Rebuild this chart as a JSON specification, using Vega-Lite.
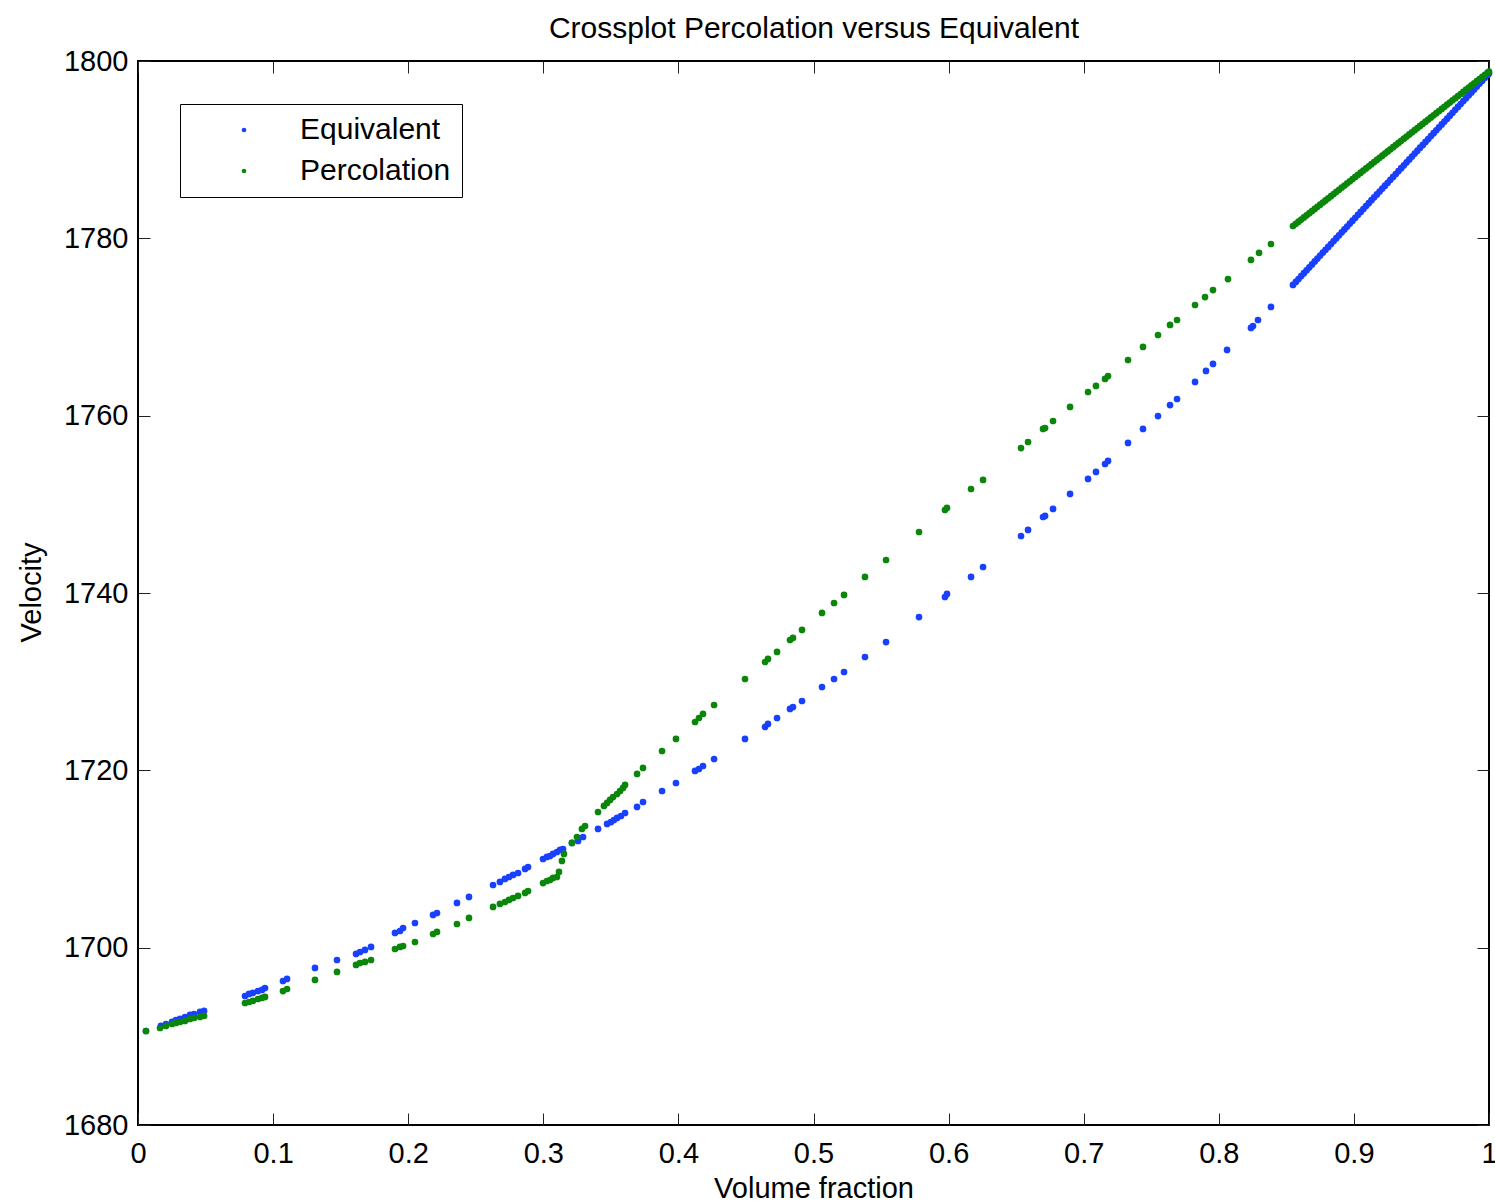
{
  "$schema": "https://vega.github.io/schema/vega-lite/v6.json",
  "width": 1351,
  "height": 1064,
  "autosize": {"type": "none"},
  "padding": {"left": 138, "top": 61, "right": 6, "bottom": 78},
  "background": "white",
  "view": {"stroke": "black", "strokeWidth": 2},
  "data": {
    "values": [
      {"x": 0.0059, "y": 1690.60, "s": "Equivalent"},
      {"x": 0.0170, "y": 1691.17, "s": "Equivalent"},
      {"x": 0.0207, "y": 1691.39, "s": "Equivalent"},
      {"x": 0.0252, "y": 1691.62, "s": "Equivalent"},
      {"x": 0.0281, "y": 1691.84, "s": "Equivalent"},
      {"x": 0.0311, "y": 1691.96, "s": "Equivalent"},
      {"x": 0.0348, "y": 1692.18, "s": "Equivalent"},
      {"x": 0.0385, "y": 1692.41, "s": "Equivalent"},
      {"x": 0.0415, "y": 1692.52, "s": "Equivalent"},
      {"x": 0.0459, "y": 1692.75, "s": "Equivalent"},
      {"x": 0.0489, "y": 1692.86, "s": "Equivalent"},
      {"x": 0.0792, "y": 1694.55, "s": "Equivalent"},
      {"x": 0.0822, "y": 1694.78, "s": "Equivalent"},
      {"x": 0.0851, "y": 1694.89, "s": "Equivalent"},
      {"x": 0.0888, "y": 1695.11, "s": "Equivalent"},
      {"x": 0.0918, "y": 1695.23, "s": "Equivalent"},
      {"x": 0.0940, "y": 1695.45, "s": "Equivalent"},
      {"x": 0.1073, "y": 1696.24, "s": "Equivalent"},
      {"x": 0.1103, "y": 1696.47, "s": "Equivalent"},
      {"x": 0.1310, "y": 1697.71, "s": "Equivalent"},
      {"x": 0.1473, "y": 1698.61, "s": "Equivalent"},
      {"x": 0.1614, "y": 1699.29, "s": "Equivalent"},
      {"x": 0.1643, "y": 1699.51, "s": "Equivalent"},
      {"x": 0.1680, "y": 1699.74, "s": "Equivalent"},
      {"x": 0.1725, "y": 1700.08, "s": "Equivalent"},
      {"x": 0.1902, "y": 1701.66, "s": "Equivalent"},
      {"x": 0.1939, "y": 1701.88, "s": "Equivalent"},
      {"x": 0.1962, "y": 1702.22, "s": "Equivalent"},
      {"x": 0.2050, "y": 1702.78, "s": "Equivalent"},
      {"x": 0.2184, "y": 1703.69, "s": "Equivalent"},
      {"x": 0.2213, "y": 1703.91, "s": "Equivalent"},
      {"x": 0.2361, "y": 1705.04, "s": "Equivalent"},
      {"x": 0.2450, "y": 1705.72, "s": "Equivalent"},
      {"x": 0.2628, "y": 1707.07, "s": "Equivalent"},
      {"x": 0.2679, "y": 1707.41, "s": "Equivalent"},
      {"x": 0.2716, "y": 1707.75, "s": "Equivalent"},
      {"x": 0.2746, "y": 1707.97, "s": "Equivalent"},
      {"x": 0.2776, "y": 1708.20, "s": "Equivalent"},
      {"x": 0.2813, "y": 1708.42, "s": "Equivalent"},
      {"x": 0.2865, "y": 1708.88, "s": "Equivalent"},
      {"x": 0.2887, "y": 1709.10, "s": "Equivalent"},
      {"x": 0.2998, "y": 1710.00, "s": "Equivalent"},
      {"x": 0.3027, "y": 1710.23, "s": "Equivalent"},
      {"x": 0.3050, "y": 1710.34, "s": "Equivalent"},
      {"x": 0.3072, "y": 1710.57, "s": "Equivalent"},
      {"x": 0.3101, "y": 1710.79, "s": "Equivalent"},
      {"x": 0.3124, "y": 1711.02, "s": "Equivalent"},
      {"x": 0.3146, "y": 1711.13, "s": "Equivalent"},
      {"x": 0.3212, "y": 1711.81, "s": "Equivalent"},
      {"x": 0.3257, "y": 1712.03, "s": "Equivalent"},
      {"x": 0.3294, "y": 1712.48, "s": "Equivalent"},
      {"x": 0.3405, "y": 1713.39, "s": "Equivalent"},
      {"x": 0.3472, "y": 1713.95, "s": "Equivalent"},
      {"x": 0.3501, "y": 1714.17, "s": "Equivalent"},
      {"x": 0.3523, "y": 1714.40, "s": "Equivalent"},
      {"x": 0.3546, "y": 1714.63, "s": "Equivalent"},
      {"x": 0.3575, "y": 1714.85, "s": "Equivalent"},
      {"x": 0.3605, "y": 1715.19, "s": "Equivalent"},
      {"x": 0.3694, "y": 1715.87, "s": "Equivalent"},
      {"x": 0.3738, "y": 1716.43, "s": "Equivalent"},
      {"x": 0.3879, "y": 1717.67, "s": "Equivalent"},
      {"x": 0.3982, "y": 1718.57, "s": "Equivalent"},
      {"x": 0.4123, "y": 1719.93, "s": "Equivalent"},
      {"x": 0.4152, "y": 1720.15, "s": "Equivalent"},
      {"x": 0.4182, "y": 1720.49, "s": "Equivalent"},
      {"x": 0.4264, "y": 1721.28, "s": "Equivalent"},
      {"x": 0.4493, "y": 1723.54, "s": "Equivalent"},
      {"x": 0.4641, "y": 1724.89, "s": "Equivalent"},
      {"x": 0.4663, "y": 1725.23, "s": "Equivalent"},
      {"x": 0.4730, "y": 1725.90, "s": "Equivalent"},
      {"x": 0.4826, "y": 1726.92, "s": "Equivalent"},
      {"x": 0.4848, "y": 1727.14, "s": "Equivalent"},
      {"x": 0.4915, "y": 1727.82, "s": "Equivalent"},
      {"x": 0.5063, "y": 1729.40, "s": "Equivalent"},
      {"x": 0.5152, "y": 1730.30, "s": "Equivalent"},
      {"x": 0.5226, "y": 1731.09, "s": "Equivalent"},
      {"x": 0.5381, "y": 1732.78, "s": "Equivalent"},
      {"x": 0.5537, "y": 1734.47, "s": "Equivalent"},
      {"x": 0.5781, "y": 1737.29, "s": "Equivalent"},
      {"x": 0.5973, "y": 1739.55, "s": "Equivalent"},
      {"x": 0.5988, "y": 1739.89, "s": "Equivalent"},
      {"x": 0.6166, "y": 1741.81, "s": "Equivalent"},
      {"x": 0.6255, "y": 1742.93, "s": "Equivalent"},
      {"x": 0.6536, "y": 1746.43, "s": "Equivalent"},
      {"x": 0.6588, "y": 1747.11, "s": "Equivalent"},
      {"x": 0.6699, "y": 1748.57, "s": "Equivalent"},
      {"x": 0.6714, "y": 1748.69, "s": "Equivalent"},
      {"x": 0.6773, "y": 1749.48, "s": "Equivalent"},
      {"x": 0.6899, "y": 1751.17, "s": "Equivalent"},
      {"x": 0.7032, "y": 1752.86, "s": "Equivalent"},
      {"x": 0.7091, "y": 1753.65, "s": "Equivalent"},
      {"x": 0.7158, "y": 1754.55, "s": "Equivalent"},
      {"x": 0.7180, "y": 1754.89, "s": "Equivalent"},
      {"x": 0.7328, "y": 1756.92, "s": "Equivalent"},
      {"x": 0.7439, "y": 1758.50, "s": "Equivalent"},
      {"x": 0.7550, "y": 1759.96, "s": "Equivalent"},
      {"x": 0.7639, "y": 1761.20, "s": "Equivalent"},
      {"x": 0.7691, "y": 1761.88, "s": "Equivalent"},
      {"x": 0.7824, "y": 1763.80, "s": "Equivalent"},
      {"x": 0.7905, "y": 1765.04, "s": "Equivalent"},
      {"x": 0.7957, "y": 1765.83, "s": "Equivalent"},
      {"x": 0.8061, "y": 1767.41, "s": "Equivalent"},
      {"x": 0.8238, "y": 1769.89, "s": "Equivalent"},
      {"x": 0.8253, "y": 1770.11, "s": "Equivalent"},
      {"x": 0.8290, "y": 1770.79, "s": "Equivalent"},
      {"x": 0.8386, "y": 1772.26, "s": "Equivalent"},
      {"x": 0.8549, "y": 1774.74, "s": "Equivalent"},
      {"x": 0.857, "y": 1775.08, "s": "Equivalent"},
      {"x": 0.859, "y": 1775.41, "s": "Equivalent"},
      {"x": 0.861, "y": 1775.74, "s": "Equivalent"},
      {"x": 0.863, "y": 1776.07, "s": "Equivalent"},
      {"x": 0.865, "y": 1776.40, "s": "Equivalent"},
      {"x": 0.867, "y": 1776.73, "s": "Equivalent"},
      {"x": 0.869, "y": 1777.06, "s": "Equivalent"},
      {"x": 0.871, "y": 1777.39, "s": "Equivalent"},
      {"x": 0.873, "y": 1777.72, "s": "Equivalent"},
      {"x": 0.875, "y": 1778.05, "s": "Equivalent"},
      {"x": 0.877, "y": 1778.38, "s": "Equivalent"},
      {"x": 0.879, "y": 1778.70, "s": "Equivalent"},
      {"x": 0.881, "y": 1779.03, "s": "Equivalent"},
      {"x": 0.883, "y": 1779.36, "s": "Equivalent"},
      {"x": 0.885, "y": 1779.69, "s": "Equivalent"},
      {"x": 0.887, "y": 1780.02, "s": "Equivalent"},
      {"x": 0.889, "y": 1780.35, "s": "Equivalent"},
      {"x": 0.891, "y": 1780.68, "s": "Equivalent"},
      {"x": 0.893, "y": 1781.01, "s": "Equivalent"},
      {"x": 0.895, "y": 1781.33, "s": "Equivalent"},
      {"x": 0.897, "y": 1781.66, "s": "Equivalent"},
      {"x": 0.899, "y": 1781.99, "s": "Equivalent"},
      {"x": 0.901, "y": 1782.32, "s": "Equivalent"},
      {"x": 0.903, "y": 1782.65, "s": "Equivalent"},
      {"x": 0.905, "y": 1782.98, "s": "Equivalent"},
      {"x": 0.907, "y": 1783.31, "s": "Equivalent"},
      {"x": 0.909, "y": 1783.64, "s": "Equivalent"},
      {"x": 0.911, "y": 1783.97, "s": "Equivalent"},
      {"x": 0.913, "y": 1784.30, "s": "Equivalent"},
      {"x": 0.915, "y": 1784.62, "s": "Equivalent"},
      {"x": 0.917, "y": 1784.95, "s": "Equivalent"},
      {"x": 0.919, "y": 1785.28, "s": "Equivalent"},
      {"x": 0.921, "y": 1785.61, "s": "Equivalent"},
      {"x": 0.923, "y": 1785.94, "s": "Equivalent"},
      {"x": 0.925, "y": 1786.27, "s": "Equivalent"},
      {"x": 0.927, "y": 1786.60, "s": "Equivalent"},
      {"x": 0.929, "y": 1786.93, "s": "Equivalent"},
      {"x": 0.931, "y": 1787.25, "s": "Equivalent"},
      {"x": 0.933, "y": 1787.58, "s": "Equivalent"},
      {"x": 0.935, "y": 1787.91, "s": "Equivalent"},
      {"x": 0.937, "y": 1788.24, "s": "Equivalent"},
      {"x": 0.939, "y": 1788.57, "s": "Equivalent"},
      {"x": 0.941, "y": 1788.90, "s": "Equivalent"},
      {"x": 0.943, "y": 1789.23, "s": "Equivalent"},
      {"x": 0.945, "y": 1789.56, "s": "Equivalent"},
      {"x": 0.947, "y": 1789.89, "s": "Equivalent"},
      {"x": 0.949, "y": 1790.22, "s": "Equivalent"},
      {"x": 0.951, "y": 1790.54, "s": "Equivalent"},
      {"x": 0.953, "y": 1790.87, "s": "Equivalent"},
      {"x": 0.955, "y": 1791.20, "s": "Equivalent"},
      {"x": 0.957, "y": 1791.53, "s": "Equivalent"},
      {"x": 0.959, "y": 1791.86, "s": "Equivalent"},
      {"x": 0.961, "y": 1792.19, "s": "Equivalent"},
      {"x": 0.963, "y": 1792.52, "s": "Equivalent"},
      {"x": 0.965, "y": 1792.85, "s": "Equivalent"},
      {"x": 0.967, "y": 1793.17, "s": "Equivalent"},
      {"x": 0.969, "y": 1793.50, "s": "Equivalent"},
      {"x": 0.971, "y": 1793.83, "s": "Equivalent"},
      {"x": 0.973, "y": 1794.16, "s": "Equivalent"},
      {"x": 0.975, "y": 1794.49, "s": "Equivalent"},
      {"x": 0.977, "y": 1794.82, "s": "Equivalent"},
      {"x": 0.979, "y": 1795.15, "s": "Equivalent"},
      {"x": 0.981, "y": 1795.48, "s": "Equivalent"},
      {"x": 0.983, "y": 1795.81, "s": "Equivalent"},
      {"x": 0.985, "y": 1796.14, "s": "Equivalent"},
      {"x": 0.987, "y": 1796.46, "s": "Equivalent"},
      {"x": 0.989, "y": 1796.79, "s": "Equivalent"},
      {"x": 0.991, "y": 1797.12, "s": "Equivalent"},
      {"x": 0.993, "y": 1797.45, "s": "Equivalent"},
      {"x": 0.995, "y": 1797.78, "s": "Equivalent"},
      {"x": 0.997, "y": 1798.11, "s": "Equivalent"},
      {"x": 0.999, "y": 1798.44, "s": "Equivalent"},
      {"x": 1.0, "y": 1798.60, "s": "Equivalent"},
      {"x": 0.0059, "y": 1690.60, "s": "Percolation"},
      {"x": 0.0163, "y": 1690.94, "s": "Percolation"},
      {"x": 0.0207, "y": 1691.17, "s": "Percolation"},
      {"x": 0.0252, "y": 1691.39, "s": "Percolation"},
      {"x": 0.0281, "y": 1691.51, "s": "Percolation"},
      {"x": 0.0311, "y": 1691.62, "s": "Percolation"},
      {"x": 0.0348, "y": 1691.73, "s": "Percolation"},
      {"x": 0.0385, "y": 1691.96, "s": "Percolation"},
      {"x": 0.0415, "y": 1692.07, "s": "Percolation"},
      {"x": 0.0459, "y": 1692.18, "s": "Percolation"},
      {"x": 0.0489, "y": 1692.30, "s": "Percolation"},
      {"x": 0.0792, "y": 1693.76, "s": "Percolation"},
      {"x": 0.0822, "y": 1693.87, "s": "Percolation"},
      {"x": 0.0851, "y": 1693.99, "s": "Percolation"},
      {"x": 0.0888, "y": 1694.21, "s": "Percolation"},
      {"x": 0.0918, "y": 1694.33, "s": "Percolation"},
      {"x": 0.0940, "y": 1694.44, "s": "Percolation"},
      {"x": 0.1073, "y": 1695.11, "s": "Percolation"},
      {"x": 0.1103, "y": 1695.34, "s": "Percolation"},
      {"x": 0.1310, "y": 1696.36, "s": "Percolation"},
      {"x": 0.1473, "y": 1697.26, "s": "Percolation"},
      {"x": 0.1614, "y": 1698.05, "s": "Percolation"},
      {"x": 0.1643, "y": 1698.27, "s": "Percolation"},
      {"x": 0.1680, "y": 1698.39, "s": "Percolation"},
      {"x": 0.1725, "y": 1698.61, "s": "Percolation"},
      {"x": 0.1902, "y": 1699.85, "s": "Percolation"},
      {"x": 0.1939, "y": 1700.08, "s": "Percolation"},
      {"x": 0.1962, "y": 1700.19, "s": "Percolation"},
      {"x": 0.2050, "y": 1700.64, "s": "Percolation"},
      {"x": 0.2184, "y": 1701.54, "s": "Percolation"},
      {"x": 0.2213, "y": 1701.77, "s": "Percolation"},
      {"x": 0.2361, "y": 1702.67, "s": "Percolation"},
      {"x": 0.2450, "y": 1703.35, "s": "Percolation"},
      {"x": 0.2628, "y": 1704.59, "s": "Percolation"},
      {"x": 0.2679, "y": 1704.93, "s": "Percolation"},
      {"x": 0.2716, "y": 1705.15, "s": "Percolation"},
      {"x": 0.2746, "y": 1705.38, "s": "Percolation"},
      {"x": 0.2776, "y": 1705.60, "s": "Percolation"},
      {"x": 0.2813, "y": 1705.83, "s": "Percolation"},
      {"x": 0.2865, "y": 1706.17, "s": "Percolation"},
      {"x": 0.2887, "y": 1706.39, "s": "Percolation"},
      {"x": 0.2998, "y": 1707.29, "s": "Percolation"},
      {"x": 0.3027, "y": 1707.52, "s": "Percolation"},
      {"x": 0.3050, "y": 1707.63, "s": "Percolation"},
      {"x": 0.3072, "y": 1707.86, "s": "Percolation"},
      {"x": 0.3101, "y": 1707.97, "s": "Percolation"},
      {"x": 0.3116, "y": 1708.54, "s": "Percolation"},
      {"x": 0.3138, "y": 1709.78, "s": "Percolation"},
      {"x": 0.3153, "y": 1710.57, "s": "Percolation"},
      {"x": 0.3212, "y": 1711.81, "s": "Percolation"},
      {"x": 0.3249, "y": 1712.48, "s": "Percolation"},
      {"x": 0.3286, "y": 1713.39, "s": "Percolation"},
      {"x": 0.3309, "y": 1713.72, "s": "Percolation"},
      {"x": 0.3405, "y": 1715.30, "s": "Percolation"},
      {"x": 0.3449, "y": 1715.98, "s": "Percolation"},
      {"x": 0.3472, "y": 1716.32, "s": "Percolation"},
      {"x": 0.3494, "y": 1716.66, "s": "Percolation"},
      {"x": 0.3516, "y": 1716.99, "s": "Percolation"},
      {"x": 0.3546, "y": 1717.33, "s": "Percolation"},
      {"x": 0.3568, "y": 1717.67, "s": "Percolation"},
      {"x": 0.3590, "y": 1718.01, "s": "Percolation"},
      {"x": 0.3605, "y": 1718.35, "s": "Percolation"},
      {"x": 0.3694, "y": 1719.59, "s": "Percolation"},
      {"x": 0.3738, "y": 1720.27, "s": "Percolation"},
      {"x": 0.3879, "y": 1722.18, "s": "Percolation"},
      {"x": 0.3982, "y": 1723.54, "s": "Percolation"},
      {"x": 0.4123, "y": 1725.45, "s": "Percolation"},
      {"x": 0.4152, "y": 1725.90, "s": "Percolation"},
      {"x": 0.4182, "y": 1726.36, "s": "Percolation"},
      {"x": 0.4264, "y": 1727.37, "s": "Percolation"},
      {"x": 0.4493, "y": 1730.30, "s": "Percolation"},
      {"x": 0.4641, "y": 1732.22, "s": "Percolation"},
      {"x": 0.4663, "y": 1732.56, "s": "Percolation"},
      {"x": 0.4730, "y": 1733.35, "s": "Percolation"},
      {"x": 0.4826, "y": 1734.70, "s": "Percolation"},
      {"x": 0.4848, "y": 1734.93, "s": "Percolation"},
      {"x": 0.4915, "y": 1735.83, "s": "Percolation"},
      {"x": 0.5063, "y": 1737.75, "s": "Percolation"},
      {"x": 0.5152, "y": 1738.87, "s": "Percolation"},
      {"x": 0.5226, "y": 1739.78, "s": "Percolation"},
      {"x": 0.5381, "y": 1741.81, "s": "Percolation"},
      {"x": 0.5537, "y": 1743.72, "s": "Percolation"},
      {"x": 0.5781, "y": 1746.88, "s": "Percolation"},
      {"x": 0.5973, "y": 1749.36, "s": "Percolation"},
      {"x": 0.5988, "y": 1749.59, "s": "Percolation"},
      {"x": 0.6166, "y": 1751.73, "s": "Percolation"},
      {"x": 0.6255, "y": 1752.75, "s": "Percolation"},
      {"x": 0.6536, "y": 1756.35, "s": "Percolation"},
      {"x": 0.6588, "y": 1757.03, "s": "Percolation"},
      {"x": 0.6699, "y": 1758.50, "s": "Percolation"},
      {"x": 0.6714, "y": 1758.61, "s": "Percolation"},
      {"x": 0.6773, "y": 1759.40, "s": "Percolation"},
      {"x": 0.6899, "y": 1760.98, "s": "Percolation"},
      {"x": 0.7032, "y": 1762.67, "s": "Percolation"},
      {"x": 0.7091, "y": 1763.35, "s": "Percolation"},
      {"x": 0.7158, "y": 1764.14, "s": "Percolation"},
      {"x": 0.7180, "y": 1764.47, "s": "Percolation"},
      {"x": 0.7328, "y": 1766.28, "s": "Percolation"},
      {"x": 0.7439, "y": 1767.75, "s": "Percolation"},
      {"x": 0.7550, "y": 1769.10, "s": "Percolation"},
      {"x": 0.7639, "y": 1770.23, "s": "Percolation"},
      {"x": 0.7691, "y": 1770.79, "s": "Percolation"},
      {"x": 0.7824, "y": 1772.48, "s": "Percolation"},
      {"x": 0.7898, "y": 1773.38, "s": "Percolation"},
      {"x": 0.7957, "y": 1774.17, "s": "Percolation"},
      {"x": 0.8068, "y": 1775.41, "s": "Percolation"},
      {"x": 0.8238, "y": 1777.56, "s": "Percolation"},
      {"x": 0.8298, "y": 1778.35, "s": "Percolation"},
      {"x": 0.8386, "y": 1779.36, "s": "Percolation"},
      {"x": 0.8549, "y": 1781.39, "s": "Percolation"},
      {"x": 0.857, "y": 1781.64, "s": "Percolation"},
      {"x": 0.859, "y": 1781.88, "s": "Percolation"},
      {"x": 0.861, "y": 1782.12, "s": "Percolation"},
      {"x": 0.863, "y": 1782.36, "s": "Percolation"},
      {"x": 0.865, "y": 1782.60, "s": "Percolation"},
      {"x": 0.867, "y": 1782.84, "s": "Percolation"},
      {"x": 0.869, "y": 1783.08, "s": "Percolation"},
      {"x": 0.871, "y": 1783.32, "s": "Percolation"},
      {"x": 0.873, "y": 1783.56, "s": "Percolation"},
      {"x": 0.875, "y": 1783.80, "s": "Percolation"},
      {"x": 0.877, "y": 1784.04, "s": "Percolation"},
      {"x": 0.879, "y": 1784.28, "s": "Percolation"},
      {"x": 0.881, "y": 1784.52, "s": "Percolation"},
      {"x": 0.883, "y": 1784.76, "s": "Percolation"},
      {"x": 0.885, "y": 1785.00, "s": "Percolation"},
      {"x": 0.887, "y": 1785.24, "s": "Percolation"},
      {"x": 0.889, "y": 1785.48, "s": "Percolation"},
      {"x": 0.891, "y": 1785.72, "s": "Percolation"},
      {"x": 0.893, "y": 1785.96, "s": "Percolation"},
      {"x": 0.895, "y": 1786.20, "s": "Percolation"},
      {"x": 0.897, "y": 1786.44, "s": "Percolation"},
      {"x": 0.899, "y": 1786.68, "s": "Percolation"},
      {"x": 0.901, "y": 1786.92, "s": "Percolation"},
      {"x": 0.903, "y": 1787.16, "s": "Percolation"},
      {"x": 0.905, "y": 1787.40, "s": "Percolation"},
      {"x": 0.907, "y": 1787.64, "s": "Percolation"},
      {"x": 0.909, "y": 1787.88, "s": "Percolation"},
      {"x": 0.911, "y": 1788.12, "s": "Percolation"},
      {"x": 0.913, "y": 1788.36, "s": "Percolation"},
      {"x": 0.915, "y": 1788.60, "s": "Percolation"},
      {"x": 0.917, "y": 1788.84, "s": "Percolation"},
      {"x": 0.919, "y": 1789.08, "s": "Percolation"},
      {"x": 0.921, "y": 1789.32, "s": "Percolation"},
      {"x": 0.923, "y": 1789.56, "s": "Percolation"},
      {"x": 0.925, "y": 1789.80, "s": "Percolation"},
      {"x": 0.927, "y": 1790.04, "s": "Percolation"},
      {"x": 0.929, "y": 1790.28, "s": "Percolation"},
      {"x": 0.931, "y": 1790.52, "s": "Percolation"},
      {"x": 0.933, "y": 1790.76, "s": "Percolation"},
      {"x": 0.935, "y": 1791.00, "s": "Percolation"},
      {"x": 0.937, "y": 1791.24, "s": "Percolation"},
      {"x": 0.939, "y": 1791.48, "s": "Percolation"},
      {"x": 0.941, "y": 1791.72, "s": "Percolation"},
      {"x": 0.943, "y": 1791.96, "s": "Percolation"},
      {"x": 0.945, "y": 1792.20, "s": "Percolation"},
      {"x": 0.947, "y": 1792.44, "s": "Percolation"},
      {"x": 0.949, "y": 1792.68, "s": "Percolation"},
      {"x": 0.951, "y": 1792.92, "s": "Percolation"},
      {"x": 0.953, "y": 1793.16, "s": "Percolation"},
      {"x": 0.955, "y": 1793.40, "s": "Percolation"},
      {"x": 0.957, "y": 1793.64, "s": "Percolation"},
      {"x": 0.959, "y": 1793.88, "s": "Percolation"},
      {"x": 0.961, "y": 1794.12, "s": "Percolation"},
      {"x": 0.963, "y": 1794.36, "s": "Percolation"},
      {"x": 0.965, "y": 1794.60, "s": "Percolation"},
      {"x": 0.967, "y": 1794.84, "s": "Percolation"},
      {"x": 0.969, "y": 1795.08, "s": "Percolation"},
      {"x": 0.971, "y": 1795.32, "s": "Percolation"},
      {"x": 0.973, "y": 1795.56, "s": "Percolation"},
      {"x": 0.975, "y": 1795.80, "s": "Percolation"},
      {"x": 0.977, "y": 1796.04, "s": "Percolation"},
      {"x": 0.979, "y": 1796.28, "s": "Percolation"},
      {"x": 0.981, "y": 1796.52, "s": "Percolation"},
      {"x": 0.983, "y": 1796.76, "s": "Percolation"},
      {"x": 0.985, "y": 1797.00, "s": "Percolation"},
      {"x": 0.987, "y": 1797.24, "s": "Percolation"},
      {"x": 0.989, "y": 1797.48, "s": "Percolation"},
      {"x": 0.991, "y": 1797.72, "s": "Percolation"},
      {"x": 0.993, "y": 1797.96, "s": "Percolation"},
      {"x": 0.995, "y": 1798.20, "s": "Percolation"},
      {"x": 0.997, "y": 1798.44, "s": "Percolation"},
      {"x": 0.999, "y": 1798.68, "s": "Percolation"},
      {"x": 1.0, "y": 1798.80, "s": "Percolation"}
    ]
  },
  "config": {
    "axis": {
      "labelFont": "Liberation Sans",
      "labelFontSize": 29,
      "labelColor": "black",
      "titleFont": "Liberation Sans",
      "titleFontSize": 29,
      "titleFontWeight": "normal",
      "titleColor": "black",
      "tickColor": "#222222",
      "tickWidth": 1,
      "tickSize": -12,
      "domain": false,
      "grid": false
    }
  },
  "layer": [
    {
      "mark": {"type": "circle", "size": 45, "opacity": 1},
      "encoding": {
        "x": {
          "field": "x",
          "type": "quantitative",
          "scale": {"domain": [0, 1], "nice": false, "zero": false},
          "axis": {
            "orient": "bottom",
            "title": "Volume fraction",
            "values": [0, 0.1, 0.2, 0.3, 0.4, 0.5, 0.6, 0.7, 0.8, 0.9, 1],
            "format": "~g",
            "labelBaseline": "alphabetic",
            "labelPadding": 49,
            "labelFlush": false,
            "titleBaseline": "alphabetic",
            "titleY": 72,
            "titleX": 675.5,
            "titleAnchor": "middle"
          }
        },
        "y": {
          "field": "y",
          "type": "quantitative",
          "scale": {"domain": [1680, 1800], "nice": false, "zero": false},
          "axis": {
            "orient": "left",
            "title": "Velocity",
            "values": [1680, 1700, 1720, 1740, 1760, 1780, 1800],
            "format": "d",
            "labelPadding": 22,
            "labelFlush": false,
            "titleAngle": -90,
            "titleBaseline": "alphabetic",
            "titleAlign": "center",
            "titleX": -98,
            "titleY": 531
          }
        },
        "color": {
          "field": "s",
          "type": "nominal",
          "scale": {"domain": ["Equivalent", "Percolation"], "range": ["#1a40ff", "#0a870a"]},
          "legend": {
            "title": null,
            "orient": "none",
            "legendX": 42,
            "legendY": 43,
            "fillColor": "white",
            "strokeColor": "black",
            "padding": 11,
            "symbolType": "circle",
            "symbolSize": 22,
            "symbolStrokeWidth": 0,
            "symbolOffset": 38,
            "labelOffset": 41,
            "labelFont": "Liberation Sans",
            "labelFontSize": 30,
            "labelColor": "black",
            "labelLimit": 400,
            "rowPadding": 11,
            "encode": {"legend": {"update": {"strokeWidth": {"value": 1.5}}}}
          }
        }
      }
    },
    {
      "mark": {"type": "circle", "size": 1, "opacity": 0},
      "encoding": {
        "x": {
          "field": "x",
          "type": "quantitative",
          "axis": {
            "orient": "top",
            "title": "Crossplot Percolation versus Equivalent",
            "titleFontSize": 30,
            "titleBaseline": "alphabetic",
            "titleAlign": "center",
            "titleX": 675.5,
            "titleY": -24,
            "labels": false,
            "values": [0, 0.1, 0.2, 0.3, 0.4, 0.5, 0.6, 0.7, 0.8, 0.9, 1]
          }
        },
        "y": {
          "field": "y",
          "type": "quantitative",
          "axis": {
            "orient": "right",
            "title": null,
            "labels": false,
            "values": [1680, 1700, 1720, 1740, 1760, 1780, 1800]
          }
        }
      }
    }
  ]
}
